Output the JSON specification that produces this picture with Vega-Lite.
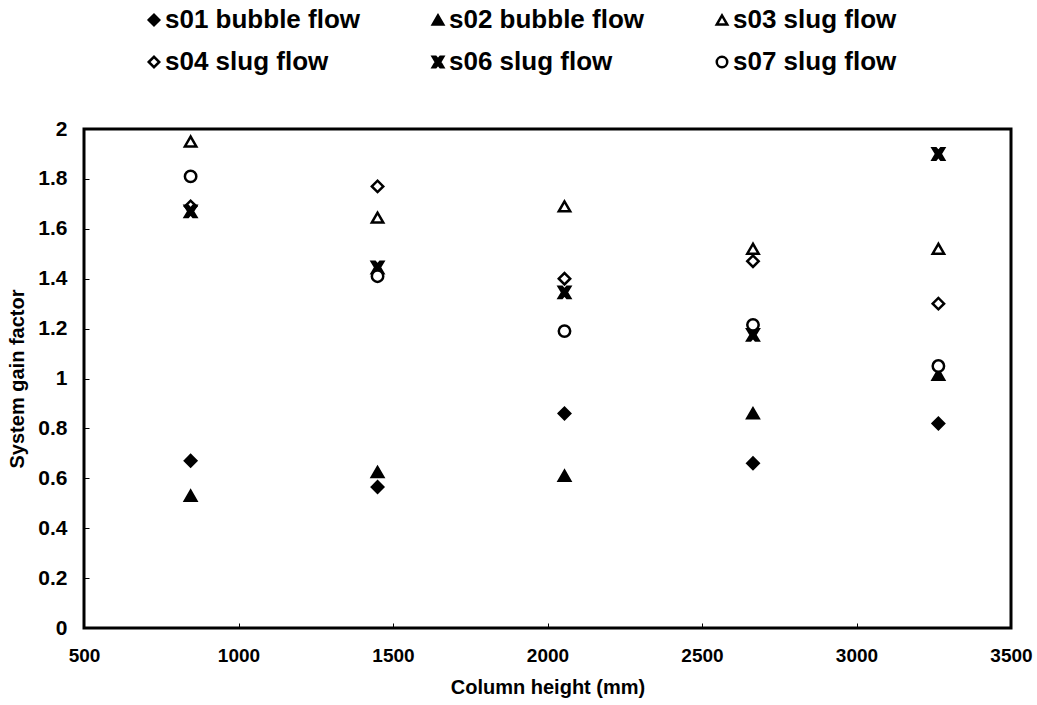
{
  "$schema": "https://vega.github.io/schema/vega-lite/v6.json",
  "autosize": {"type": "none"},
  "width": 927,
  "height": 499,
  "padding": {"left": 84, "top": 129, "right": 26, "bottom": 77},
  "background": "white",
  "config": {
    "font": "Liberation Sans",
    "view": {"stroke": "black", "strokeWidth": 3},
    "axis": {"grid": false, "domain": false, "labelFlush": false, "labelFont": "Liberation Sans", "labelFontWeight": "bold", "labelColor": "black", "titleFont": "Liberation Sans", "titleFontWeight": "bold", "titleFontSize": 20, "titleColor": "black", "tickColor": "black", "tickWidth": 1}
  },
  "data": {"values": [
    {"h": 845, "sgf": 0.67, "series": "s01 bubble flow"},
    {"h": 1450, "sgf": 0.565, "series": "s01 bubble flow"},
    {"h": 2055, "sgf": 0.86, "series": "s01 bubble flow"},
    {"h": 2665, "sgf": 0.66, "series": "s01 bubble flow"},
    {"h": 3265, "sgf": 0.82, "series": "s01 bubble flow"},
    {"h": 845, "sgf": 0.53, "series": "s02 bubble flow"},
    {"h": 1450, "sgf": 0.625, "series": "s02 bubble flow"},
    {"h": 2055, "sgf": 0.61, "series": "s02 bubble flow"},
    {"h": 2665, "sgf": 0.86, "series": "s02 bubble flow"},
    {"h": 3265, "sgf": 1.015, "series": "s02 bubble flow"},
    {"h": 845, "sgf": 1.95, "series": "s03 slug flow"},
    {"h": 1450, "sgf": 1.645, "series": "s03 slug flow"},
    {"h": 2055, "sgf": 1.69, "series": "s03 slug flow"},
    {"h": 2665, "sgf": 1.52, "series": "s03 slug flow"},
    {"h": 3265, "sgf": 1.52, "series": "s03 slug flow"},
    {"h": 845, "sgf": 1.69, "series": "s04 slug flow"},
    {"h": 1450, "sgf": 1.77, "series": "s04 slug flow"},
    {"h": 2055, "sgf": 1.40, "series": "s04 slug flow"},
    {"h": 2665, "sgf": 1.47, "series": "s04 slug flow"},
    {"h": 3265, "sgf": 1.30, "series": "s04 slug flow"},
    {"h": 845, "sgf": 1.67, "series": "s06 slug flow"},
    {"h": 1450, "sgf": 1.445, "series": "s06 slug flow"},
    {"h": 2055, "sgf": 1.345, "series": "s06 slug flow"},
    {"h": 2665, "sgf": 1.175, "series": "s06 slug flow"},
    {"h": 3265, "sgf": 1.90, "series": "s06 slug flow"},
    {"h": 845, "sgf": 1.81, "series": "s07 slug flow"},
    {"h": 1450, "sgf": 1.41, "series": "s07 slug flow"},
    {"h": 2055, "sgf": 1.19, "series": "s07 slug flow"},
    {"h": 2665, "sgf": 1.215, "series": "s07 slug flow"},
    {"h": 3265, "sgf": 1.05, "series": "s07 slug flow"}
  ]},
  "mark": {"type": "point", "stroke": "black", "strokeWidth": 2.5, "opacity": 1, "size": 130},
  "encoding": {
    "x": {"field": "h", "type": "quantitative", "title": "Column height (mm)",
      "scale": {"domain": [500, 3500], "nice": false},
      "axis": {"values": [500, 1000, 1500, 2000, 2500, 3000, 3500], "format": "d", "labelFontSize": 19, "tickSize": -5, "labelPadding": 23, "titlePadding": 12}},
    "y": {"field": "sgf", "type": "quantitative", "title": "System gain factor",
      "scale": {"domain": [0, 2], "nice": false},
      "axis": {"values": [0, 0.2, 0.4, 0.6, 0.8, 1, 1.2, 1.4, 1.6, 1.8, 2], "format": "~g", "labelFontSize": 21, "tickSize": -5, "labelPadding": 22, "titlePadding": 10}},
    "shape": {"field": "series", "type": "nominal", "title": null,
      "scale": {"domain": ["s01 bubble flow", "s02 bubble flow", "s03 slug flow", "s04 slug flow", "s06 slug flow", "s07 slug flow"],
        "range": ["diamond", "triangle-up", "triangle-up", "diamond", "M-1,-1L-0.45,-1L0,-0.45L0.45,-1L1,-1L0.4,0L1,1L0.45,1L0,0.45L-0.45,1L-1,1L-0.4,0Z", "circle"]},
      "legend": {"orient": "none", "legendX": 57, "legendY": -122, "columns": 3, "direction": "horizontal", "columnPadding": 64, "rowPadding": 16, "labelFont": "Liberation Sans", "labelFontWeight": "bold", "labelFontSize": 26, "labelColor": "black", "symbolSize": 110, "symbolStrokeWidth": 2.5, "labelOffset": -2, "padding": 0, "labelLimit": 400}},
    "fill": {"field": "series", "type": "nominal", "title": null,
      "scale": {"domain": ["s01 bubble flow", "s02 bubble flow", "s03 slug flow", "s04 slug flow", "s06 slug flow", "s07 slug flow"],
        "range": ["black", "black", "white", "white", "black", "white"]}}
  }
}
